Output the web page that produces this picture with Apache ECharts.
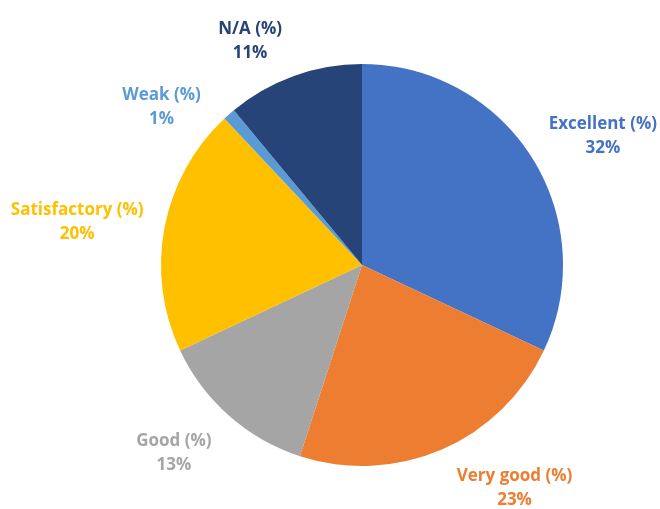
<!DOCTYPE html>
<html>
<head>
<meta charset="utf-8">
<script src="https://cdn.jsdelivr.net/npm/echarts@6/dist/echarts.min.js"></script>
<style>
  html, body { margin: 0; padding: 0; background: #ffffff; }
  #chart { width: 660px; height: 509px; }
</style>
</head>
<body>
<div id="chart"></div>
<script>
// Rating categories, clockwise from 12 o'clock
const categories = ['Excellent (%)', 'Very good (%)', 'Good (%)', 'Satisfactory (%)', 'Weak (%)', 'N/A (%)'];
const shares = [32, 23, 13, 20, 1, 11];
const colors = ['#4472C4', '#ED7D31', '#A5A5A5', '#FFC000', '#5B9BD5', '#264478'];
// label placement: distance from the pie centre (px) and angular nudge (deg) off the slice middle
const labelRadius = [273, 270, 266, 288, 255, 250];
const labelTurn = [4.3, -11, 3.6, -2.3, -10.4, -6.8];

const cx = 362, cy = 265, radius = 201;
const total = shares.reduce((a, b) => a + b, 0);

// mid angle (clockwise from top) of each slice, used to place labels
const midAngles = [];
let acc = 0;
shares.forEach(v => {
  midAngles.push((acc + v / 2) / total * Math.PI * 2);
  acc += v;
});

const chart = echarts.init(document.getElementById('chart'));
chart.setOption({
  animation: false,
  series: [{
    type: 'pie',
    center: [cx, cy],
    radius: [0, radius],
    startAngle: 90,
    clockwise: true,
    data: categories.map((name, i) => ({
      name: name,
      value: shares[i],
      itemStyle: { color: colors[i] },
      label: { color: colors[i] }
    })),
    label: {
      show: true,
      position: 'outside',
      formatter: p => p.name + '\n' + p.value + '%',
      fontFamily: 'Open Sans',
      fontWeight: 'bold',
      fontSize: 17,
      lineHeight: 24,
      align: 'center',
      overflow: 'none'
    },
    labelLine: { show: false },
    labelLayout: params => {
      const i = params.dataIndex;
      const a = midAngles[i] + labelTurn[i] * Math.PI / 180;
      return {
        x: cx + labelRadius[i] * Math.sin(a),
        y: cy - labelRadius[i] * Math.cos(a),
        align: 'center',
        verticalAlign: 'middle'
      };
    }
  }]
});
</script>
</body>
</html>
